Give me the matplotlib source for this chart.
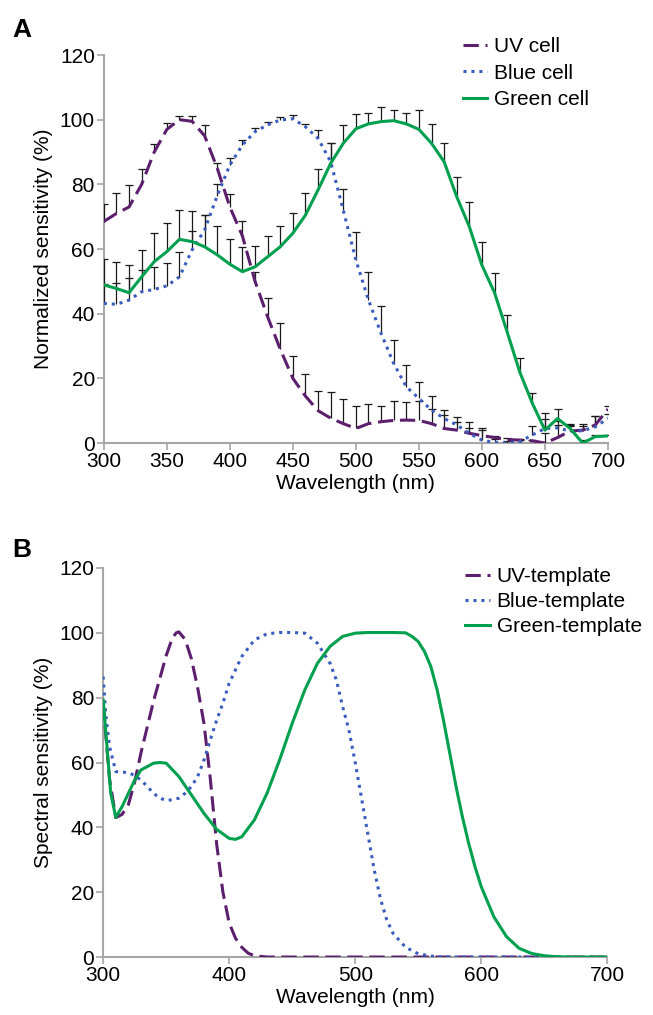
import numpy as np
import matplotlib
matplotlib.use("Agg")
import matplotlib.pyplot as plt

plt.rcParams['font.family'] = ['Liberation Sans', 'DejaVu Sans']

# ---------------- Panel A data (10 nm steps) ----------------
wl_a = list(range(300, 701, 10))
uv_cell = [68.5, 71, 73, 80, 90, 97, 100, 99.5, 95, 85, 73, 64, 50, 39, 29, 20, 14.5, 10,
           7.7, 6, 4.5, 6, 6.6, 7, 7.1, 7, 6, 4.5, 4, 3, 2.3, 1.7, 1.1, 0.9, 0.7, 0,
           1.7, 3.7, 4, 5.6, 10.5]
uv_err = [5.3, 6.4, 6.9, 4.9, 2.6, 2, 1, 1.5, 3.3, 1.5, 4, 4.6, 3, 6, 8, 7, 7, 6,
          8, 7.7, 7, 6, 4.8, 5.9, 5.5, 6.1, 4.6, 4.2, 2.6, 1.7, 2.5, 0.5, 0.5, 0.3, 0.3, 3,
          3.9, 1.5, 1.8, 2.7, 1]
blue_cell = [43.2, 42.9, 44.2, 46.8, 47.5, 48.6, 51.4, 59.7, 65.9, 76.5, 86, 92.2, 96.3, 98.4,
             99.9, 100.3, 97.8, 94.2, 87, 72, 56.6, 44.2, 33.9, 24.6, 17.4, 13.8, 10.2, 7.6,
             5.6, 3, 0.9, 0.2, 0, 0.4, 2.5, 4.5, 4.7, 3.7, 3.8, 5, 7.6]
blue_err = [6, 6.5, 6.7, 6.7, 7, 7, 7.8, 6, 4.6, 3.5, 2, 1.5, 1, 1, 1, 1, 1, 2.6, 5.7, 6.7,
            8.7, 8.6, 8.6, 7.4, 6.7, 5.2, 4.4, 2.6, 2.5, 3.6, 3, 1, 0.5, 0.5, 2.8, 3, 2, 2,
            1.5, 3.4, 1.5]
green_cell = [48.9, 47.8, 46.5, 51.4, 56.1, 59.2, 63, 62.3, 60.7, 58.2, 55.3, 53, 54.5, 57.6,
              60.7, 64.9, 70.5, 78.3, 86.5, 92.7, 97.2, 98.7, 99.4, 99.7, 98.7, 97, 92.7, 87,
              76.2, 66.9, 55, 46.5, 34.4, 22, 12.3, 4, 7.6, 4.5, 0, 2, 2.2]
green_err = [8, 8.3, 8.5, 8.3, 8.8, 9, 9, 9.5, 9.8, 8.9, 7.8, 7.7, 6.5, 6.4, 6.4, 6.3, 6.9,
             6.4, 6.2, 5.7, 4.6, 3.5, 4.6, 3.3, 3.5, 6, 6, 5.9, 6.2, 7.7, 7.3, 6, 5.2, 4.4,
             3.3, 5.2, 2.8, 1.3, 1, 0.5, 0.3]

# ---------------- Panel B data (templates) ----------------
wl_uv_t = [300, 305, 310, 315, 320, 325, 330, 335, 340, 345, 350, 355, 358, 360, 365, 370,
           375, 380, 385, 390, 395, 400, 405, 410, 415, 420, 430, 450, 500, 550, 600, 650, 700]
uv_t = [78, 55, 43, 44, 47, 54, 63, 71, 79, 86, 93, 98.5, 100, 100.3, 98, 92,
        83, 72, 55, 35, 20, 10.5, 5.8, 3, 1.2, 0.4, 0, 0, 0, 0, 0, 0, 0]
wl_blue_t = [300, 302, 305, 310, 320, 325, 330, 335, 340, 345, 350, 355, 360, 365, 370, 375,
             380, 385, 390, 395, 400, 410, 420, 430, 440, 450, 460, 470, 480, 485, 490, 495,
             500, 505, 510, 515, 520, 525, 530, 540, 550, 560, 570, 600, 650, 700]
blue_t = [86.5, 75, 65, 57.2, 56.9, 56, 54.6, 52.6, 50.5, 49, 48.3, 48.5, 49, 50.5, 52.6, 55.7,
          60.8, 67, 73, 78.3, 84.5, 92.7, 97.8, 99.7, 100.1, 100.1, 99.9, 96.8, 90.6, 85.5, 77.3, 70,
          60, 49, 38, 27, 18, 11.5, 7.3, 3, 1, 0.3, 0, 0, 0, 0]
wl_green_t = [300, 303, 306, 310, 315, 320, 325, 330, 340, 345, 350, 360, 370, 380, 390, 400,
              405, 410, 420, 430, 440, 450, 460, 470, 480, 490, 500, 510, 520, 530, 540, 545,
              550, 555, 560, 565, 570, 575, 580, 585, 590, 595, 600, 610, 620, 630, 640, 650,
              660, 670, 700]
green_t = [79.3, 65, 50.5, 43.1, 46.4, 50.5, 54.6, 57.7, 59.8, 60, 59.8, 55.7, 50, 44.3, 39.4, 36.6,
           36.3, 37.1, 42.3, 50.5, 60.8, 72.1, 82.4, 90.6, 95.8, 98.9, 99.9, 100.1, 100.1, 100.1, 100, 98.9,
           97.3, 94.2, 89.6, 82.4, 73.1, 62.9, 52.6, 43.3, 35.1, 27.9, 21.7, 12.4, 6.3, 2.7, 1.1, 0.4,
           0.1, 0, 0]

PURPLE = '#5b1f6e'
BLUE = '#3a5cbf'
GREEN = '#00a04e'
AXC = '#a6a6a6'
FS = 15

fig = plt.figure(figsize=(6.53, 10.15), dpi=100)
axA = fig.add_axes([0.159, 0.5635, 0.772, 0.3823])
axB = fig.add_axes([0.158, 0.0571, 0.772, 0.3833])


def style(ax):
    for s in ['top', 'right']:
        ax.spines[s].set_visible(False)
    for s in ['left', 'bottom']:
        ax.spines[s].set_color(AXC)
        ax.spines[s].set_linewidth(1.5)
    ax.tick_params(axis='both', direction='out', length=5, width=1.2, color=AXC,
                   labelsize=FS, pad=1.5)
    ax.set_ylim(0, 120)
    ax.set_yticks(range(0, 121, 20))
    ax.set_xlim(300, 700)


def upper_err(ax, x, y, e):
    zeros = np.zeros(len(e))
    res = ax.errorbar(x, y, yerr=[zeros, e], fmt='none', ecolor='#1a1a1a',
                      elinewidth=0.9, capsize=3, capthick=0.9, zorder=3)
    caps = res[1]
    if len(caps) >= 1:
        caps[0].set_visible(False)


style(axA)
axA.set_xticks(range(300, 701, 50))
upper_err(axA, wl_a, uv_cell, uv_err)
upper_err(axA, wl_a, blue_cell, blue_err)
upper_err(axA, wl_a, green_cell, green_err)
axA.plot(wl_a, uv_cell, color=PURPLE, lw=2.2, dashes=(5, 2.2), label='UV cell', zorder=4)
axA.plot(wl_a, blue_cell, color=BLUE, lw=2.2, dashes=(1.0, 1.6), label='Blue cell', zorder=4)
axA.plot(wl_a, green_cell, color=GREEN, lw=2.2, label='Green cell', zorder=4)
axA.set_xlabel('Wavelength (nm)', fontsize=FS, labelpad=2)
axA.set_ylabel('Normalized sensitivity (%)', fontsize=FS)
axA.yaxis.set_label_coords(-0.1, 0.5)
axA.legend(loc='upper left', bbox_to_anchor=(453 / 653, 1 - 27 / 1015),
           bbox_transform=fig.transFigure, frameon=False, fontsize=FS,
           handlelength=1.15, handletextpad=0.33, labelspacing=0.35, borderpad=0)

style(axB)
axB.set_xticks(range(300, 701, 100))
axB.plot(wl_uv_t, uv_t, color=PURPLE, lw=2.2, dashes=(5, 2.2), label='UV-template', zorder=3)
axB.plot(wl_blue_t, blue_t, color=BLUE, lw=2.2, dashes=(1.0, 1.6), label='Blue-template', zorder=3)
axB.plot(wl_green_t, green_t, color=GREEN, lw=2.2, label='Green-template', zorder=3)
axB.set_xlabel('Wavelength (nm)', fontsize=FS, labelpad=2)
axB.set_ylabel('Spectral sensitivity (%)', fontsize=FS)
axB.yaxis.set_label_coords(-0.1, 0.5)
axB.legend(loc='upper left', bbox_to_anchor=(455 / 653, 1 - 557 / 1015),
           bbox_transform=fig.transFigure, frameon=False, fontsize=FS,
           handlelength=1.2, handletextpad=0.3, labelspacing=0.29, borderpad=0)

fig.text(12 / 653, 1 - 37 / 1015, 'A', fontsize=19, fontweight='bold')
fig.text(12 / 653, 1 - 557 / 1015, 'B', fontsize=19, fontweight='bold')

fig.savefig('out.png', dpi=100)
